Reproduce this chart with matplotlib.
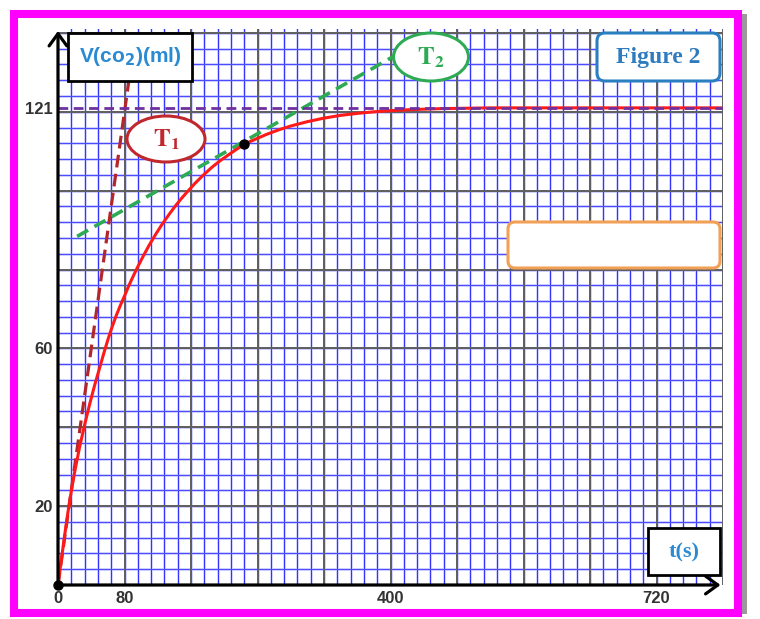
import matplotlib.pyplot as plt
import numpy as np
from matplotlib.patches import Rectangle, FancyBboxPatch, Ellipse
from matplotlib.transforms import Affine2D

# values
t_curve = [0, 4, 8, 12, 16, 20, 26, 32, 38, 44, 50, 55, 60, 65, 70, 75, 80, 85, 90, 95,
           102, 110, 118, 125, 133, 140, 148, 155, 165, 175, 185, 195, 210, 224, 237,
           250, 265, 280, 300, 320, 340, 360, 380, 400, 430, 460, 490, 520, 560, 600,
           700, 797]
v_curve = [0, 6.4, 12.6, 18.5, 23.8, 28.6, 35.0, 40.6, 45.8, 50.6, 55.0, 58.7, 62.2,
           65.4, 68.3, 70.9, 73.3, 75.8, 78.1, 80.3, 83.2, 86.3, 89.1, 91.4, 93.8, 95.8,
           97.9, 99.6, 101.9, 104.0, 105.9, 107.6, 109.8, 111.8, 113.0, 114.2, 115.4,
           116.4, 117.5, 118.4, 119.1, 119.6, 120.0, 120.3, 120.6, 120.8, 120.9, 121,
           121, 121, 121, 121]

t1_t = [0, 85]
t1_v = [0, 127.5]
t2_t = [23, 405]
t2_v = [88.4, 134.2]
v_max = 121
dot_t = [0, 224]
dot_v = [0, 111.8]

xtick_vals = [0, 80, 400, 720]
ytick_vals = [20, 60, 121]

W, H = 760, 619
fig = plt.figure(figsize=(W / 100, H / 100), dpi=100)
fig.patch.set_facecolor('white')

# pixel coordinates, origin top-left
px = Affine2D().scale(1, -1).translate(0, H)

# cadre magenta + ombre
fig.add_artist(Rectangle((742, 14), 5, 600, transform=px, facecolor='#9a9a9a',
                         edgecolor='none', zorder=-3))
fig.add_artist(Rectangle((14, 14), 723.5, 598.5, transform=px, facecolor='white',
                         edgecolor='#ff00ff', lw=5.8, zorder=-2))

ax = fig.add_axes([58 / W, (H - 585) / H, 665 / W, 556 / H])
ax.set_xlim(0, 800)
ax.set_ylim(0, 141)
ax.set_facecolor('white')
for s in ax.spines.values():
    s.set_visible(False)

# papier millimetre
for x in np.arange(16, 800, 16):
    ax.axvline(x, color='#d2d2ff', lw=1.8, zorder=0.5)
    ax.axvline(x, color='#3434ff', lw=0.8, zorder=0.6)
for y in np.arange(4, 141, 4):
    ax.axhline(y, color='#d2d2ff', lw=2.0, zorder=0.5)
    ax.axhline(y, color='#4c4cff', lw=0.8, zorder=0.6)
for x in np.arange(80, 801, 80):
    ax.axvline(x, color='#5f5f5f', lw=1.4, zorder=1)
for y in np.arange(20, 141, 20):
    ax.axhline(y, color='#5f5f5f', lw=1.4, zorder=1)

# tangentes et asymptote
ax.plot(t1_t, t1_v, color='#b3262b', lw=2.3, ls=(0, (4, 2)), zorder=3, clip_on=False)
ax.plot(t2_t, t2_v, color='#2eaa55', lw=2.6, ls=(0, (3.5, 2)), zorder=3)
ax.plot(t_curve, v_curve, color='#ff1a1a', lw=2.2, zorder=4)
ax.plot([0, 800], [v_max, v_max], color='#7030a0', lw=2.0, ls=(0, (3.5, 2)), zorder=4.5)
ax.plot(dot_t, dot_v, 'o', color='black', ms=6.5, zorder=7, clip_on=False)

# axes avec fleches
ax.annotate('', xy=(797, 0), xytext=(0, 0), annotation_clip=False,
            arrowprops=dict(arrowstyle='->,head_length=0.55,head_width=0.4', lw=2.3,
                            color='black', shrinkA=0, shrinkB=0, mutation_scale=16), zorder=6)
ax.annotate('', xy=(0, 140.5), xytext=(0, 0), annotation_clip=False,
            arrowprops=dict(arrowstyle='->,head_length=0.55,head_width=0.4', lw=2.3,
                            color='black', shrinkA=0, shrinkB=0, mutation_scale=16), zorder=6)

ax.set_xticks(xtick_vals, [str(v) for v in xtick_vals])
ax.set_yticks(ytick_vals, [str(v) for v in ytick_vals])
ax.tick_params(length=0, labelsize=12, labelcolor='#333333')
ax.tick_params(axis='x', pad=4)
ax.tick_params(axis='y', pad=4)
for lab in ax.get_xticklabels() + ax.get_yticklabels():
    lab.set_fontweight('bold')
    lab.set_family('Liberation Sans')

# etiquettes
fig.add_artist(Rectangle((68, 33), 124, 48, transform=px, facecolor='white',
                         edgecolor='black', lw=2.0, zorder=5))
fig.text(130, 57, r'V(co$_\mathbf{2}$)(ml)', transform=px, ha='center', va='center',
         fontsize=15, fontweight='bold', color='#2a8bd2', family='Liberation Sans',
         math_fontfamily='dejavusans', zorder=6)

fig.add_artist(FancyBboxPatch((597, 33), 123, 48, transform=px,
                              boxstyle='round,pad=0,rounding_size=8',
                              facecolor='white', edgecolor='#2a7fc0', lw=2.2, zorder=5))
fig.text(658, 57, 'Figure 2', transform=px, ha='center', va='center', fontsize=17,
         fontweight='bold', color='#2e7bbf', family='Liberation Serif', zorder=6)

fig.add_artist(Rectangle((648, 528), 72, 47, transform=px, facecolor='white',
                         edgecolor='black', lw=2.0, zorder=5))
fig.text(684, 552, 't(s)', transform=px, ha='center', va='center', fontsize=16,
         fontweight='bold', color='#2a8bd2', family='Liberation Serif', zorder=6)

fig.add_artist(FancyBboxPatch((508, 222), 212, 46, transform=px,
                              boxstyle='round,pad=0,rounding_size=7',
                              facecolor='white', edgecolor='#f2a055', lw=2.2, zorder=5))

fig.add_artist(Ellipse((166, 139), 78, 46, transform=px, facecolor='white',
                       edgecolor='#c0282d', lw=2.2, zorder=5))
fig.text(166, 140, r'$\mathbf{T_1}$', transform=px, ha='center', va='center',
         fontsize=18, color='#c0282d', math_fontfamily='stix', zorder=6)

fig.add_artist(Ellipse((431, 57), 75, 48, transform=px, facecolor='white',
                       edgecolor='#2eaa55', lw=2.2, zorder=5))
fig.text(431, 58, r'$\mathbf{T_2}$', transform=px, ha='center', va='center',
         fontsize=18, color='#2eaa55', math_fontfamily='stix', zorder=6)

fig.savefig('out.png', dpi=100)
plt.close(fig)
